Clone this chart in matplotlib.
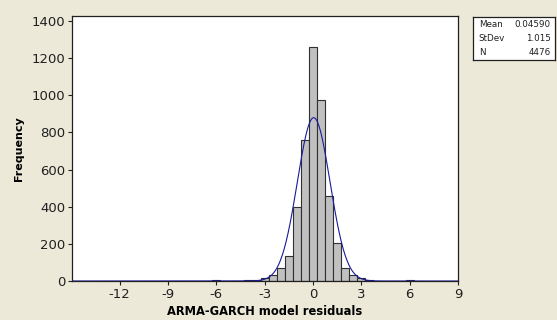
import numpy as np
import matplotlib.pyplot as plt

plt.rcParams['axes.unicode_minus'] = False

# histogram of residuals (bin centres, width 0.5)
bin_centers = [-6.0, -4.5, -4.0, -3.5, -3.0, -2.5, -2.0, -1.5, -1.0, -0.5,
               0.0, 0.5, 1.0, 1.5, 2.0, 2.5, 3.0, 3.5, 5.0, 6.0]
counts = [3, 2, 3, 3, 15, 33, 70, 135, 400, 760,
          1260, 975, 460, 205, 72, 32, 15, 4, 2, 3]
bin_width = 0.5

mean = 0.04590
stdev = 1.015
n = 4476

xticks = [-12, -9, -6, -3, 0, 3, 6, 9]
yticks = [0, 200, 400, 600, 800, 1000, 1200, 1400]

bg = '#ECE9D8'
fig = plt.figure(figsize=(5.57, 3.20), dpi=100, facecolor=bg)
ax = fig.add_axes([72 / 557, 1 - 281 / 320, (458 - 72) / 557, (281 - 15.5) / 320])
ax.set_facecolor('white')

ax.bar(bin_centers, counts, width=bin_width, color='#C0C0C0',
       edgecolor='#303030', linewidth=0.8, zorder=2)

# fitted normal curve
xs = np.linspace(-15, 9, 600)
ys = n * bin_width / (stdev * np.sqrt(2 * np.pi)) * np.exp(-0.5 * ((xs - mean) / stdev) ** 2)
ax.plot(xs, ys, color='#1A1A9A', linewidth=0.8, zorder=3)

ax.set_xlim(-14.95, 9)
ax.set_ylim(0, 1430)
ax.set_xticks(xticks)
ax.set_yticks(yticks)
ax.tick_params(labelsize=9.5, length=3, width=0.8, colors='#202020', pad=2)
for s in ax.spines.values():
    s.set_color('#202020')
    s.set_linewidth(0.9)

ax.set_xlabel('ARMA-GARCH model residuals', fontsize=8.3, fontweight='bold', labelpad=3)
ax.set_ylabel('Frequency', fontsize=8, fontweight='bold', labelpad=5)

# stats box
box = fig.add_axes([473 / 557, 1 - 60 / 320, (555 - 473) / 557, (60 - 17) / 320])
box.set_facecolor('white')
box.set_xticks([])
box.set_yticks([])
for s in box.spines.values():
    s.set_color('#202020')
    s.set_linewidth(0.9)
labels = ['Mean', 'StDev', 'N']
values = ['0.04590', '1.015', '4476']
for i, (lab, val) in enumerate(zip(labels, values)):
    yy = 0.82 - i * 0.32
    box.text(0.07, yy, lab, fontsize=6.3, va='center', ha='left', transform=box.transAxes, color='#202020')
    box.text(0.95, yy, val, fontsize=6.3, va='center', ha='right', transform=box.transAxes, color='#202020')

fig.savefig('out.png', dpi=100, facecolor=bg)
